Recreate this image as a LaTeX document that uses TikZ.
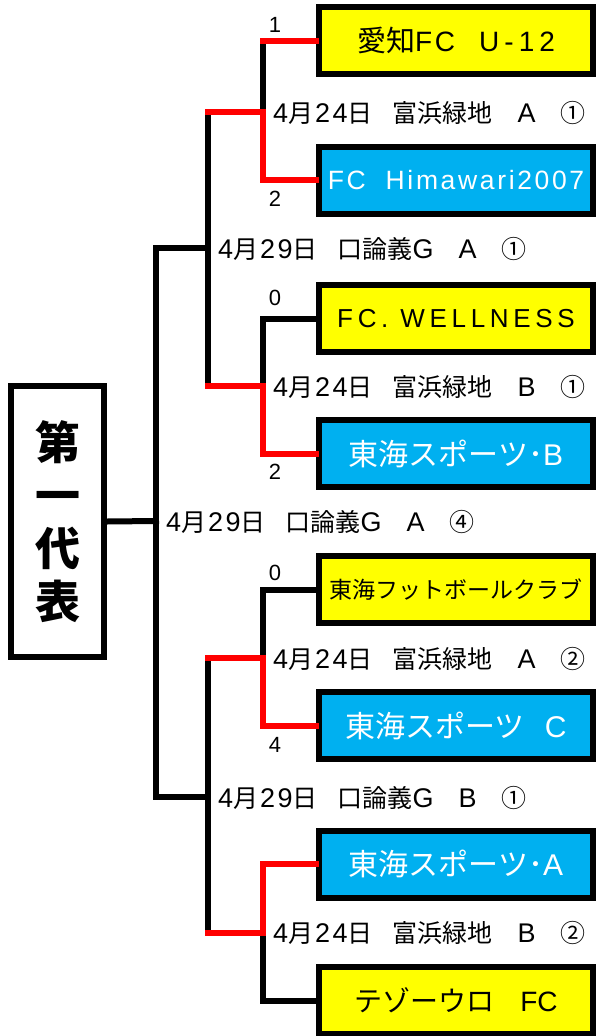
\documentclass[tikz,border=0pt]{standalone}
\usepackage{fontspec}
\setmainfont{Noto Sans CJK JP}
\newfontfamily\lat{Liberation Sans}
\newfontfamily\latls{Liberation Sans}[LetterSpace=18]
\newfontfamily\latmd{Liberation Sans}[LetterSpace=10]
\newfontfamily\latd{Liberation Sans}[LetterSpace=9]
\newcommand{\dlat}[1]{{\latd\fontsize{27}{29}\selectfont #1}}
\newcommand{\mday}[2]{\dlat{#1}月\kern2pt\dlat{#2}日\hspace{20pt}}
\definecolor{teamyellow}{HTML}{FFFF00}
\definecolor{teamblue}{HTML}{00B0F0}
\definecolor{winred}{HTML}{FF0000}
\begin{document}
\begin{tikzpicture}[x=1pt,y=-1pt,
  team/.style={draw=black, line width=6pt, minimum width=274pt, minimum height=67pt, inner sep=0pt, font=\fontsize{28}{30}\selectfont},
  yteam/.style={team, fill=teamyellow, text=black},
  bteam/.style={team, fill=teamblue, text=white},
  blk/.style={line width=6pt, line cap=rect, draw=black},
  win/.style={line width=6pt, line cap=rect, draw=winred},
  datelbl/.style={anchor=west, inner sep=0pt, font=\fontsize{25}{27}\selectfont},
  scorelbl/.style={inner sep=0pt, font=\lat\fontsize{22}{24}\selectfont}]
\useasboundingbox (0,0) rectangle (596,1036);
\fill[white] (0,0) rectangle (596,1036);

% team boxes
\node[yteam, font=\fontsize{29}{31}\selectfont] (b1) at (456,40.5) {愛知{\latmd\fontsize{28}{30}\selectfont FC}\hspace{24pt}{\latls\fontsize{28}{30}\selectfont U-12}};
\node[bteam, font=\latmd\fontsize{26.5}{28}\selectfont] (b2) at (456,180) {FC\hspace{20pt}Himawari2007};
\node[yteam, font=\latls\fontsize{26}{28}\selectfont] (b3) at (456,318.5) {FC. WELLNESS};
\node[bteam, font=\fontsize{30}{32}\selectfont] (b4) at (456,453.5) {東海スポーツ･{\lat B}};
\node[yteam, font=\fontsize{23}{25}\selectfont] (b5) at (456,589.5) {東海フットボールクラブ};
\node[bteam, font=\fontsize{30}{32}\selectfont] (b6) at (456,725.5) {東海スポーツ\hspace{20pt}{\lat C}};
\node[bteam, font=\fontsize{30}{32}\selectfont] (b7) at (456,864) {東海スポーツ･{\lat A}};
\node[yteam] (b8) at (456,1000.5) {テゾーウロ\hspace{26pt}{\lat FC}};

% champion box
\node[draw=black, line width=6pt, minimum width=93pt, minimum height=271pt, inner sep=0pt,
  font=\fontsize{45}{53}\selectfont\bfseries, align=center] (champ) at (57.5,521.5) {第\\一\\代\\表};

% junction coordinates
\coordinate (j1) at (263,112);
\coordinate (j2) at (263,386);
\coordinate (j3) at (263,658);
\coordinate (j4) at (263,933);
\coordinate (k1) at (208,112);
\coordinate (k2) at (208,386);
\coordinate (k3) at (208,658);
\coordinate (k4) at (208,933);
\coordinate (s1) at (208,248);
\coordinate (s2) at (208,797);
\coordinate (t1) at (156,248);
\coordinate (t2) at (156,797);
\coordinate (f) at (156,521);

% black connectors
\draw[blk] (j1 |- b1.west) -- (j1);
\draw[blk] (k1) -- (k2);
\draw[blk] (t1) -- (s1);
\draw[blk] (t1) -- (t2);
\draw[blk] (champ.east) -- (f);
\draw[blk] (t2) -- (s2);
\draw[blk] (k3) -- (k4);
\draw[blk] (j2 |- b3.west) -- (b3.west);
\draw[blk] (j2 |- b3.west) -- (j2);
\draw[blk] (j3 |- b5.west) -- (b5.west);
\draw[blk] (j3 |- b5.west) -- (j3);
\draw[blk] (j4) -- (j4 |- b8.west) -- (b8.west);

% red connectors
\draw[win] (j1 |- b1.west) -- (b1.west);
\draw[win] (k1) -- (j1) -- (j1 |- b2.west) -- (b2.west);
\draw[win] (k2) -- (j2) -- (j2 |- b4.west) -- (b4.west);
\draw[win] (k3) -- (j3) -- (j3 |- b6.west) -- (b6.west);
\draw[win] (b7.west) -- (j4 |- b7.west) -- (j4) -- (k4);

% scores
\node[scorelbl] (sc1) at (275,25) {1};
\node[scorelbl] (sc2) at (275,199) {2};
\node[scorelbl] (sc3) at (275,298) {0};
\node[scorelbl] (sc4) at (275,472) {2};
\node[scorelbl] (sc5) at (275,573) {0};
\node[scorelbl] (sc6) at (275,745) {4};

% match labels
\node[datelbl] (d1) at (273,113) {\mday{4}{24}富浜緑地　\dlat{A}　①};
\node[datelbl] (d2) at (218,249) {\mday{4}{29}口論義\dlat{G}　\dlat{A}　①};
\node[datelbl] (d3) at (273,387) {\mday{4}{24}富浜緑地　\dlat{B}　①};
\node[datelbl] (d4) at (166,522) {\mday{4}{29}口論義\dlat{G}　\dlat{A}　④};
\node[datelbl] (d5) at (273,659) {\mday{4}{24}富浜緑地　\dlat{A}　②};
\node[datelbl] (d6) at (218,798) {\mday{4}{29}口論義\dlat{G}　\dlat{B}　①};
\node[datelbl] (d7) at (273,933) {\mday{4}{24}富浜緑地　\dlat{B}　②};
\end{tikzpicture}
\end{document}
